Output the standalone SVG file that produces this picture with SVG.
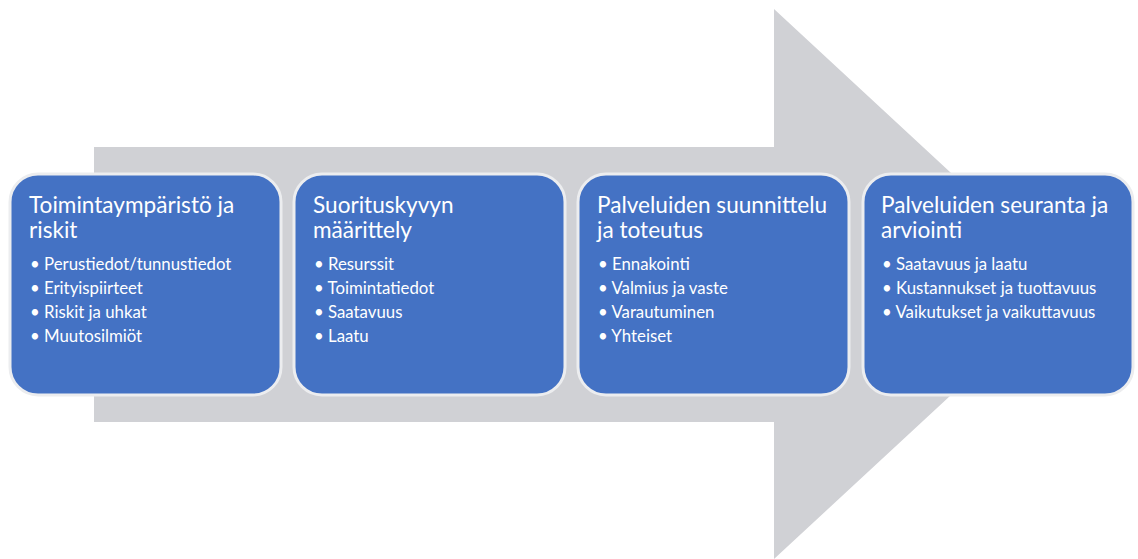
<svg xmlns="http://www.w3.org/2000/svg" width="1138" height="559" viewBox="0 0 1138 559">
<style>
.box{fill:#4472C4;stroke:#ECEDEF;stroke-width:3}
.t{font-family:Lato,"Liberation Sans",sans-serif;fill:#fff;font-size:22.6px}
.b{font-family:Lato,"Liberation Sans",sans-serif;fill:#fff;font-size:16.8px}
</style>
<rect width="1138" height="559" fill="#fff"/>
<g id="arrow">
<polygon points="94,147 774,147 774,9 1071,284 774,559 774,422 94,422" fill="#D0D1D5"/>
</g>
<g id="node1">
<rect class="box" x="10" y="174" width="271" height="221" rx="28"/>
<text class="t" x="29" y="213">Toimintaympäristö ja</text>
<text class="t" x="29" y="238">riskit</text>
<text class="b" x="30" y="270">• Perustiedot/tunnustiedot</text>
<text class="b" x="30" y="294">• Erityispiirteet</text>
<text class="b" x="30" y="318">• Riskit ja uhkat</text>
<text class="b" x="30" y="342">• Muutosilmiöt</text>
</g>
<g id="node2">
<rect class="box" x="294" y="174" width="271" height="221" rx="28"/>
<text class="t" x="313" y="213">Suorituskyvyn</text>
<text class="t" x="313" y="238">määrittely</text>
<text class="b" x="314" y="270">• Resurssit</text>
<text class="b" x="314" y="294">• Toimintatiedot</text>
<text class="b" x="314" y="318">• Saatavuus</text>
<text class="b" x="314" y="342">• Laatu</text>
</g>
<g id="node3">
<rect class="box" x="578" y="174" width="271" height="221" rx="28"/>
<text class="t" x="597" y="213">Palveluiden suunnittelu</text>
<text class="t" x="597" y="238">ja toteutus</text>
<text class="b" x="598" y="270">• Ennakointi</text>
<text class="b" x="598" y="294">• Valmius ja vaste</text>
<text class="b" x="598" y="318">• Varautuminen</text>
<text class="b" x="598" y="342">• Yhteiset</text>
</g>
<g id="node4">
<rect class="box" x="863" y="174" width="270" height="221" rx="28"/>
<text class="t" x="881" y="213">Palveluiden seuranta ja</text>
<text class="t" x="881" y="238">arviointi</text>
<text class="b" x="882" y="270">• Saatavuus ja laatu</text>
<text class="b" x="882" y="294">• Kustannukset ja tuottavuus</text>
<text class="b" x="882" y="318">• Vaikutukset ja vaikuttavuus</text>
</g>
<g id="connectors"></g>
</svg>
